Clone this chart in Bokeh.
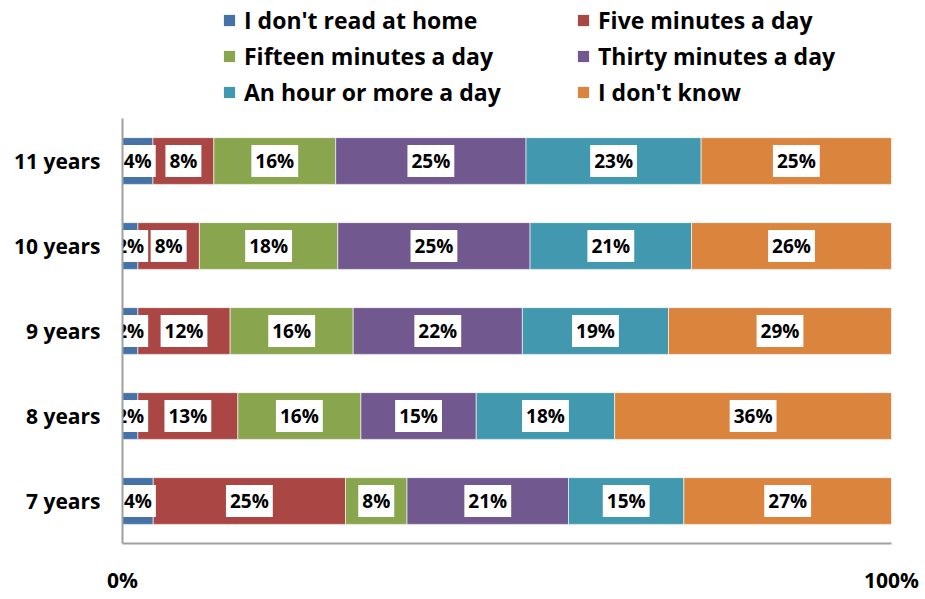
from bokeh.plotting import figure
from bokeh.layouts import column
from bokeh.models import (ColumnDataSource, FactorRange, Range1d, Legend, LegendItem,
                          FixedTicker)
from bokeh.core.properties import value
from bokeh.embed import file_html
from bokeh.resources import INLINE

years = ["7 years", "8 years", "9 years", "10 years", "11 years"]
series_names = ["I don't read at home", "Five minutes a day", "Fifteen minutes a day",
                "Thirty minutes a day", "An hour or more a day", "I don't know"]
no_reading = [4, 2, 2, 2, 4]
five_min = [25, 13, 12, 8, 8]
fifteen_min = [8, 16, 16, 18, 16]
thirty_min = [21, 15, 22, 25, 25]
hour_more = [15, 18, 19, 21, 23]
dont_know = [27, 36, 29, 26, 25]
x_tick_labels = {0: "0%", 1: "100%"}

series = [no_reading, five_min, fifteen_min, thirty_min, hour_more, dont_know]
colors = ["#4572A7", "#AA4643", "#89A54E", "#71588F", "#4198AF", "#DB843D"]

FONT = "Open Sans"

# ---- main chart ----
p = figure(width=925, height=481, output_backend="svg", toolbar_location=None,
           y_range=FactorRange(*years, range_padding=0), x_range=Range1d(0, 1),
           min_border_left=122, min_border_right=34, min_border_top=0,
           min_border_bottom=56)
p.outline_line_color = None
p.grid.visible = False
p.background_fill_color = "white"

totals = [sum(s[i] for s in series) for i in range(len(years))]
left = [0.0] * len(years)
label_x, label_y, label_t = [], [], []
for name, vals, col in zip(series_names, series, colors):
    frac = [v / t for v, t in zip(vals, totals)]
    right = [l + f for l, f in zip(left, frac)]
    src = ColumnDataSource(dict(y=years, left=left, right=right))
    p.hbar(y="y", left="left", right="right", height=0.55, source=src,
           fill_color=col, line_color="white", line_alpha=0.6, line_width=1)
    for i in range(len(years)):
        label_x.append((left[i] + right[i]) / 2)
        label_y.append(years[i])
        label_t.append(f"{vals[i]}%")
    left = right

lsrc = ColumnDataSource(dict(x=label_x, y=label_y, t=label_t))
p.text(x="x", y="y", text="t", source=lsrc, text_align="center", text_baseline="middle",
       text_font=value(FONT), text_font_style="bold", text_font_size="19px", text_color="black",
       background_fill_color="white", padding=dict(left=4, right=4, top=3, bottom=3))

ax = p.yaxis[0]
ax.major_tick_line_color = None
ax.minor_tick_line_color = None
ax.major_label_standoff = 16
ax.major_label_text_font = FONT
ax.major_label_text_font_style = "bold"
ax.major_label_text_font_size = "21px"
ax.major_label_text_color = "black"
ax.axis_line_color = "#a0a0a0"
ax.axis_line_width = 2

xa = p.xaxis[0]
xa.ticker = FixedTicker(ticks=list(x_tick_labels.keys()))
xa.major_label_overrides = {k: v for k, v in x_tick_labels.items()}
xa.major_tick_line_color = None
xa.minor_tick_line_color = None
xa.major_label_standoff = 16
xa.major_label_text_font = FONT
xa.major_label_text_font_style = "bold"
xa.major_label_text_font_size = "21px"
xa.major_label_text_color = "black"
xa.axis_line_color = "#a0a0a0"
xa.axis_line_width = 2

# ---- legend strip (swatch renderers hold no drawable data) ----
pl = figure(width=925, height=118, output_backend="svg", toolbar_location=None,
            x_range=Range1d(0, 1), y_range=Range1d(0, 1),
            x_axis_type=None, y_axis_type=None, min_border=0)
pl.outline_line_color = None
pl.grid.visible = False
nan = float("nan")
items = []
for name, col in zip(series_names, colors):
    r = pl.hbar(y=[nan], left=[nan], right=[nan], height=0.5, fill_color=col, line_color=None)
    items.append(LegendItem(label=name, renderers=[r]))
legend = Legend(items=items, location=(100, 10), orientation="horizontal", ncols=2,
                label_text_font=FONT, label_text_font_style="bold",
                label_text_font_size="23px", label_text_color="black",
                glyph_width=14, glyph_height=14, label_standoff=8,
                label_width=328, label_height=30, spacing=4,
                padding=0, margin=0, background_fill_alpha=0, border_line_alpha=0)
pl.add_layout(legend, "center")

layout = column(pl, p, spacing=0)
open("out.html", "w").write(file_html(layout, INLINE))
